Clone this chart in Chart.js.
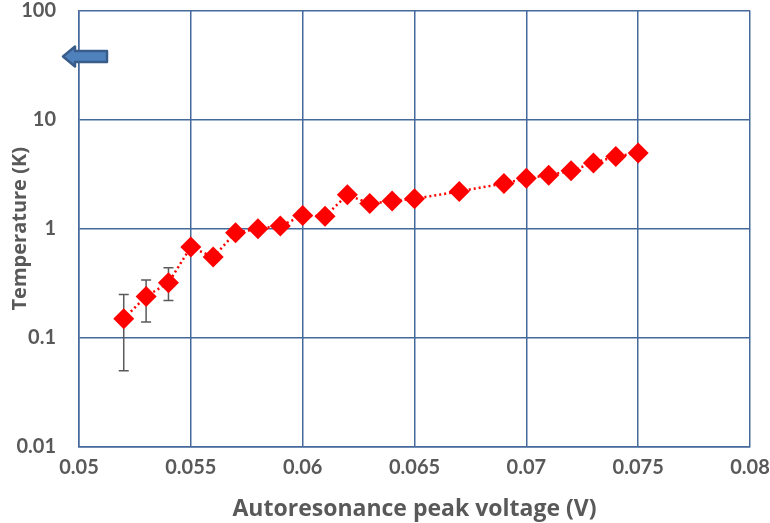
<!DOCTYPE html>
<html>
<head>
<meta charset="utf-8">
<script src="https://cdn.jsdelivr.net/npm/chart.js@4/dist/chart.umd.min.js"></script>
<style>
  html, body { margin: 0; padding: 0; background: #fff; }
  #wrap { width: 770px; height: 523px; }
</style>
</head>
<body>
<div id="wrap"><canvas id="chart"></canvas></div>
<script>
const voltages = [0.052, 0.053, 0.054, 0.055, 0.056, 0.057, 0.058, 0.059, 0.060, 0.061, 0.062, 0.063,
                  0.064, 0.065, 0.067, 0.069, 0.070, 0.071, 0.072, 0.073, 0.074, 0.075];
const temperatures = [0.15, 0.24, 0.32, 0.68, 0.55, 0.92, 1.0, 1.06, 1.32, 1.3, 2.05, 1.7,
                      1.8, 1.88, 2.2, 2.6, 2.9, 3.1, 3.4, 4.0, 4.6, 4.95];
// error bars only on the first three points
const errLow = [0.05, 0.14, 0.22];
const errHigh = [0.25, 0.34, 0.44];
const yTicks = [0.01, 0.1, 1, 10, 100];

const gridColor = '#45699b';
const textColor = '#595959';
const font = "Lato, 'Open Sans', sans-serif";
const titleFont = "'Open Sans', Lato, sans-serif";

const errorBars = {
  id: 'errorBars',
  beforeDatasetsDraw(chart) {
    const ctx = chart.ctx;
    const xs = chart.scales.x, ys = chart.scales.y;
    ctx.save();
    ctx.strokeStyle = '#5a5a5a';
    ctx.lineWidth = 1.5;
    errLow.forEach((lo, i) => {
      const x = xs.getPixelForValue(voltages[i]);
      const y1 = ys.getPixelForValue(lo);
      const y2 = ys.getPixelForValue(errHigh[i]);
      ctx.beginPath();
      ctx.moveTo(x, y1); ctx.lineTo(x, y2);
      ctx.moveTo(x - 5, y1); ctx.lineTo(x + 5, y1);
      ctx.moveTo(x - 5, y2); ctx.lineTo(x + 5, y2);
      ctx.stroke();
    });
    ctx.restore();
  }
};

// blue arrow pointing left near the top of the y axis
const arrow = {
  id: 'arrow',
  afterDraw(chart) {
    const ctx = chart.ctx;
    const a = chart.chartArea;
    const x0 = a.left - 16, y0 = a.top + 46;
    ctx.save();
    ctx.beginPath();
    ctx.moveTo(x0, y0);
    ctx.lineTo(x0 + 12, y0 - 10);
    ctx.lineTo(x0 + 12, y0 - 5.5);
    ctx.lineTo(x0 + 44, y0 - 5.5);
    ctx.lineTo(x0 + 44, y0 + 5.5);
    ctx.lineTo(x0 + 12, y0 + 5.5);
    ctx.lineTo(x0 + 12, y0 + 10);
    ctx.closePath();
    ctx.fillStyle = '#4f81bd';
    ctx.fill();
    ctx.strokeStyle = '#385d8a';
    ctx.lineWidth = 2.5;
    ctx.lineJoin = 'round';
    ctx.stroke();
    ctx.restore();
  }
};

new Chart(document.getElementById('chart'), {
  type: 'scatter',
  data: {
    datasets: [{
      data: voltages.map((v, i) => ({ x: v, y: temperatures[i] })),
      showLine: true,
      borderColor: '#ff0000',
      borderWidth: 2.5,
      borderDash: [2, 3],
      pointStyle: 'rectRot',
      pointRadius: 10.5,
      pointHoverRadius: 10.5,
      pointBackgroundColor: '#ff0000',
      pointBorderColor: '#ff0000',
      pointBorderWidth: 0
    }]
  },
  plugins: [errorBars, arrow],
  options: {
    responsive: true,
    maintainAspectRatio: false,
    animation: false,
    layout: { padding: { top: 2, right: 20, left: 4, bottom: 0 } },
    plugins: {
      legend: { display: false },
      tooltip: { enabled: false }
    },
    scales: {
      x: {
        type: 'linear',
        min: 0.05,
        max: 0.08,
        afterFit: s => { s.height = 76; s.paddingLeft = 0; s.paddingRight = 0; },
        ticks: {
          stepSize: 0.005,
          maxRotation: 0,
          color: textColor,
          font: { family: font, size: 20, weight: 'bold' },
          padding: 9,
          callback: v => String(parseFloat(v.toFixed(3)))
        },
        grid: { color: gridColor, lineWidth: 1.5, drawTicks: false },
        border: { color: gridColor, width: 1.5 },
        title: {
          display: true,
          text: 'Autoresonance peak voltage (V)',
          color: textColor,
          font: { family: titleFont, size: 23, weight: 'bold' },
          padding: { top: 10, bottom: 0 }
        }
      },
      y: {
        type: 'logarithmic',
        min: 0.01,
        max: 100,
        afterFit: s => { s.width = 75; s.paddingTop = 10; s.paddingBottom = 0; },
        afterBuildTicks: axis => { axis.ticks = yTicks.map(v => ({ value: v })); },
        ticks: {
          color: textColor,
          font: { family: font, size: 20, weight: 'bold' },
          padding: 23,
          callback: v => String(v)
        },
        grid: { color: gridColor, lineWidth: 1.5, drawTicks: false },
        border: { color: gridColor, width: 1.5 },
        title: {
          display: true,
          text: 'Temperature (K)',
          color: textColor,
          font: { family: titleFont, size: 20, weight: 'bold' },
          padding: { bottom: 0, top: 4 }
        }
      }
    }
  }
});
</script>
</body>
</html>
